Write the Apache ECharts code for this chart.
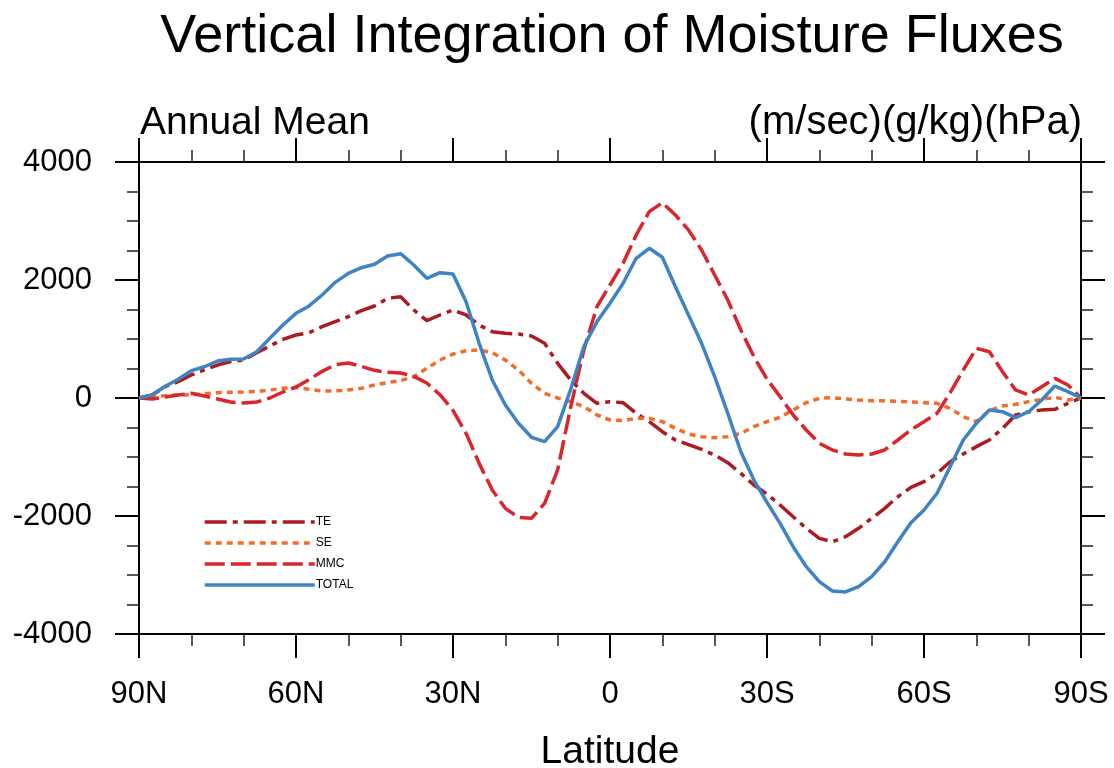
<!DOCTYPE html>
<html>
<head>
<meta charset="utf-8">
<script src="https://cdn.jsdelivr.net/npm/echarts@6/dist/echarts.min.js"></script>
<style>
  html, body { margin: 0; padding: 0; background: #fff; }
  #chart { width: 1114px; height: 768px; }
</style>
</head>
<body>
<div id="chart"></div>
<script>
// latitude grid, 90N -> 90S
const lats = [
  90, 87.5, 85, 82.5, 80, 77.5, 75, 72.5, 70, 67.5, 65, 62.5, 60, 57.5, 55, 52.5,
  50, 47.5, 45, 42.5, 40, 37.5, 35, 32.5, 30, 27.5, 25, 22.5, 20, 17.5, 15, 12.5,
  10, 7.5, 5, 2.5, 0, -2.5, -5, -7.5, -10, -12.5, -15, -17.5, -20, -22.5, -25,
  -27.5, -30, -32.5, -35, -37.5, -40, -42.5, -45, -47.5, -50, -52.5, -55, -57.5,
  -60, -62.5, -65, -67.5, -70, -72.5, -75, -77.5, -80, -82.5, -85, -87.5, -90
];

const teVals = [
  0, 50, 192, 277, 390, 475, 559, 616, 644, 768, 881, 994, 1068, 1107, 1209, 1294,
  1378, 1480, 1559, 1690, 1717, 1492, 1310, 1407, 1492, 1407, 1237, 1124, 1096, 1085, 1051, 927,
  588, 305, 79, -90, -62, -79, -260, -401, -571, -712, -790, -870, -966, -1096, -1277,
  -1475, -1630, -1814, -2012, -2209, -2379, -2436, -2351, -2209, -2040, -1870, -1673, -1514,
  -1419, -1277, -1080, -949, -825, -712, -514, -288, -232, -203, -192, -90, 0
];

const seVals = [
  0, 20, 39, 51, 55, 70, 90, 96, 100, 110, 136, 164, 178, 147, 120, 120,
  136, 164, 220, 262, 295, 361, 503, 644, 745, 802, 814, 768, 644, 475, 249, 79,
  0, -62, -147, -288, -373, -384, -345, -345, -401, -514, -610, -656, -672, -656, -599,
  -486, -400, -328, -203, -79, -5, 6, -17, -34, -45, -45, -56, -68,
  -79, -90, -175, -316, -401, -215, -136, -107, -62, -23, 11, -34, 0
];

const mmcVals = [
  0, -17, 17, 51, 79, 34, -17, -68, -85, -68, 0, 102, 186, 311, 452, 565,
  593, 537, 469, 435, 424, 367, 254, 56, -210, -599, -1108, -1560, -1870, -2023, -2040, -1786,
  -1220, -150, 814, 1548, 1915, 2283, 2763, 3158, 3310, 3102, 2848, 2509, 2085, 1661, 1153,
  700, 320, 23, -288, -542, -768, -881, -949, -966, -949, -881, -712, -542,
  -401, -260, 90, 475, 842, 785, 446, 136, 51, 192, 333, 220, 0
];

const totalVals = [
  0, 50, 200, 317, 463, 530, 627, 655, 660, 785, 1012, 1237, 1435, 1560, 1746, 1960,
  2113, 2208, 2266, 2407, 2446, 2254, 2029, 2124, 2102, 1633, 927, 305, -119, -429, -666, -740,
  -486, 150, 870, 1293, 1605, 1944, 2368, 2537, 2385, 1887, 1407, 927, 361, -259, -910,
  -1390, -1770, -2124, -2520, -2859, -3113, -3271, -3288, -3198, -3029, -2775, -2436, -2113,
  -1898, -1615, -1164, -712, -429, -203, -232, -334, -232, -34, 203, 107, 0
];

const yTicks = [-4000, -2000, 0, 2000, 4000];

const font = '"Liberation Sans", Arial, Helvetica, sans-serif';

function pairs(vals) {
  return lats.map((lat, i) => [lat, vals[i]]);
}

function latLabel(v) {
  if (v > 0) return v + 'N';
  if (v < 0) return (-v) + 'S';
  return '0';
}

const chart = echarts.init(document.getElementById('chart'), null, { renderer: 'canvas' });

const tickStyle = { show: true, inside: false, length: 24, lineStyle: { color: '#000', width: 2 } };
const minorStyle = (n) => ({ show: true, splitNumber: n, length: 12, lineStyle: { color: '#222', width: 1.5 } });
const lineAxis = { show: true, onZero: false, lineStyle: { color: '#000', width: 2 } };

function xAx(pos, labels) {
  return {
    type: 'value', position: pos, min: -90, max: 90, interval: 30, inverse: true,
    axisLine: lineAxis, axisTick: tickStyle, minorTick: minorStyle(3),
    splitLine: { show: false },
    axisLabel: { show: labels, formatter: latLabel, fontSize: 31, fontFamily: font, color: '#000', margin: 45 }
  };
}

function yAx(pos, labels) {
  return {
    type: 'value', position: pos, min: yTicks[0], max: yTicks[yTicks.length - 1], interval: 2000,
    axisLine: lineAxis, axisTick: tickStyle, minorTick: minorStyle(4),
    splitLine: { show: false },
    axisLabel: { show: labels, formatter: (v) => String(v), fontSize: 31, fontFamily: font, color: '#000', margin: 47 }
  };
}

const option = {
  backgroundColor: '#fff',
  animation: false,
  title: [
    { text: 'Vertical Integration of Moisture Fluxes', left: 612, textAlign: 'center', top: 10, padding: 0,
      textStyle: { fontSize: 54, fontWeight: 'normal', fontFamily: font, color: '#000' } },
    { text: 'Annual Mean', left: 140, top: 104, padding: 0,
      textStyle: { fontSize: 39, fontWeight: 'normal', fontFamily: font, color: '#000' } },
    { text: '(m/sec)(g/kg)(hPa)', right: 32, top: 103, padding: 0,
      textStyle: { fontSize: 40, fontWeight: 'normal', fontFamily: font, color: '#000' } },
    { text: 'Latitude', left: 610, textAlign: 'center', top: 733, padding: 0,
      textStyle: { fontSize: 39, fontWeight: 'normal', fontFamily: font, color: '#000' } }
  ],
  grid: { left: 139, right: 33, top: 162, bottom: 134, containLabel: false },
  legend: {
    orient: 'vertical', left: 203, top: 515, padding: 0,
    itemWidth: 110, itemHeight: 14, itemGap: 7,
    itemStyle: { opacity: 0 },
    lineStyle: { width: 3.5 },
    textStyle: { fontSize: 12, fontFamily: font, color: '#000', padding: [0, 0, 0, -4], lineHeight: 14 },
    data: ['TE', 'SE', 'MMC', 'TOTAL']
  },
  xAxis: [xAx('bottom', true), xAx('top', false)],
  yAxis: [yAx('left', true), yAx('right', false)],
  series: [
    { name: 'TE', type: 'line', data: pairs(teVals), symbol: 'none', smooth: false,
      lineStyle: { color: '#AC1A22', width: 3.5, type: [22, 6, 5, 6] }, itemStyle: { color: '#AC1A22' } },
    { name: 'SE', type: 'line', data: pairs(seVals), symbol: 'none', smooth: false,
      lineStyle: { color: '#F46B2B', width: 3.5, type: [6, 5] }, itemStyle: { color: '#F46B2B' } },
    { name: 'MMC', type: 'line', data: pairs(mmcVals), symbol: 'none', smooth: false,
      lineStyle: { color: '#D9252C', width: 3.5, type: [20, 6] }, itemStyle: { color: '#D9252C' } },
    { name: 'TOTAL', type: 'line', data: pairs(totalVals), symbol: 'none', smooth: false,
      lineStyle: { color: '#3E84C4', width: 3.5, type: 'solid' }, itemStyle: { color: '#3E84C4' } }
  ]
};

chart.setOption(option);
</script>
</body>
</html>
